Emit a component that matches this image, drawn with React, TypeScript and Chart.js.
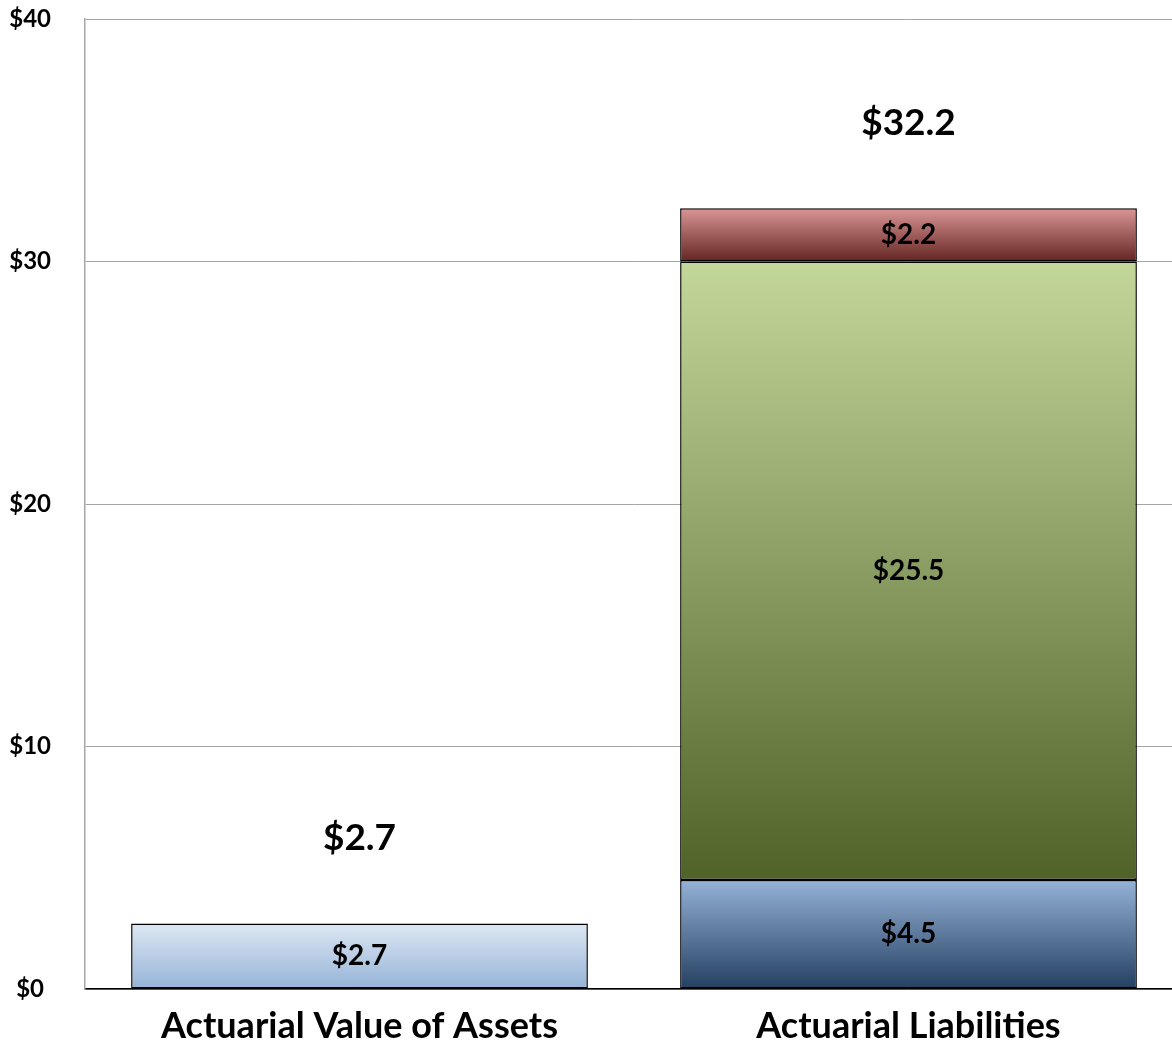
import React, { useEffect, useRef } from "react";
import { Chart, registerables } from "chart.js";

Chart.register(...registerables);

const categories = ["Actuarial Value of Assets", "Actuarial Liabilities"];
const seriesNames = ["Assets", "Liability A", "Liability B", "Liability C"];
const assetValues = [2.7, null];
const liabA = [null, 4.5];
const liabB = [null, 25.5];
const liabC = [null, 2.2];
const totals = [2.7, 32.2];
const yTicks = [0, 10, 20, 30, 40];

const gradientStops: [string, string][] = [
  ["#dde7f3", "#95b3d7"],
  ["#95b3d7", "#243f60"],
  ["#c4d79b", "#4f6228"],
  ["#da9694", "#632523"],
];

const FONT = "Lato, 'Open Sans', sans-serif";

export default function App() {
  const ref = useRef<HTMLCanvasElement | null>(null);
  useEffect(() => {
    document.body.style.margin = "0";
    const seriesData = [assetValues, liabA, liabB, liabC];
    const bg = (di: number) => (ctx: any) => {
      const chart = ctx.chart;
      const y = chart.scales?.y;
      if (!y || !chart.chartArea || ctx.dataIndex === undefined) return gradientStops[di][1];
      const j = ctx.dataIndex;
      let start = 0;
      for (let k = 0; k < di; k++) start += (seriesData[k][j] as number) || 0;
      const v = (seriesData[di][j] as number) || 0;
      const top = y.getPixelForValue(start + v);
      const bot = y.getPixelForValue(start);
      if (!isFinite(top) || !isFinite(bot) || top === bot) return gradientStops[di][1];
      const g = chart.ctx.createLinearGradient(0, top, 0, bot);
      g.addColorStop(0, gradientStops[di][0]);
      g.addColorStop(1, gradientStops[di][1]);
      return g;
    };
    const labelPlugin = {
      id: "labels",
      afterDatasetsDraw(chart: any) {
        const c = chart.ctx;
        c.save();
        c.fillStyle = "#000";
        c.textAlign = "center";
        c.textBaseline = "middle";
        c.font = `bold 28px ${FONT}`;
        chart.data.datasets.forEach((ds: any, di: number) => {
          const meta = chart.getDatasetMeta(di);
          meta.data.forEach((el: any, j: number) => {
            const v = ds.data[j];
            if (v == null) return;
            const { x, y, base } = el.getProps(["x", "y", "base"], true);
            c.fillText("$" + v.toFixed(1), x, (y + base) / 2);
          });
        });
        c.font = `bold 37px ${FONT}`;
        const ys = chart.scales.y;
        const xs = chart.scales.x;
        totals.forEach((t, j) => {
          c.fillText("$" + t.toFixed(1), xs.getPixelForValue(j), ys.getPixelForValue(t) - 85);
        });
        c.restore();
      },
    };
    const chart = new Chart(ref.current!, {
      type: "bar",
      data: {
        labels: categories,
        datasets: seriesData.map((d, i) => ({
          label: seriesNames[i],
          data: d as any,
          backgroundColor: bg(i),
          borderColor: "#000",
          borderWidth: 1.5,
          borderSkipped: false,
          barPercentage: 0.832,
          categoryPercentage: 1,
        })),
      },
      options: {
        animation: false,
        responsive: false,
        maintainAspectRatio: false,
        layout: { padding: { top: 19, right: 0, left: 0, bottom: 0 } },
        plugins: { legend: { display: false }, tooltip: { enabled: false } },
        scales: {
          x: {
            stacked: true,
            grid: { display: false, drawTicks: false },
            border: { color: "#000", width: 1.5 },
            ticks: { color: "#000", font: { family: FONT, size: 36, weight: "bold" }, padding: 16, maxRotation: 0 },
            afterFit: (s: any) => { s.height = 55; s.paddingLeft = 0; s.paddingRight = 0; },
          },
          y: {
            stacked: true,
            min: 0,
            max: 40,
            afterBuildTicks: (s: any) => { s.ticks = yTicks.map((v) => ({ value: v })); },
            grid: { color: "#a6a6a6", lineWidth: 1, drawTicks: false },
            border: { color: "#a6a6a6", width: 1.5 },
            ticks: {
              color: "#000",
              crossAlign: "center",
              padding: 34,
              font: { family: FONT, size: 24, weight: "bold" },
              callback: (v: any) => "$" + v,
            },
            afterFit: (s: any) => { s.width = 85; s.paddingTop = 0; s.paddingBottom = 0; },
          },
        },
      },
      plugins: [labelPlugin],
    });
    return () => chart.destroy();
  }, []);
  return (
    <div style={{ position: "fixed", left: 0, top: 0, width: 1172, height: 1044, overflow: "hidden", background: "#fff" }}>
      <canvas ref={ref} width={1183} height={1044} style={{ width: 1183, height: 1044, display: "block" }} />
    </div>
  );
}
